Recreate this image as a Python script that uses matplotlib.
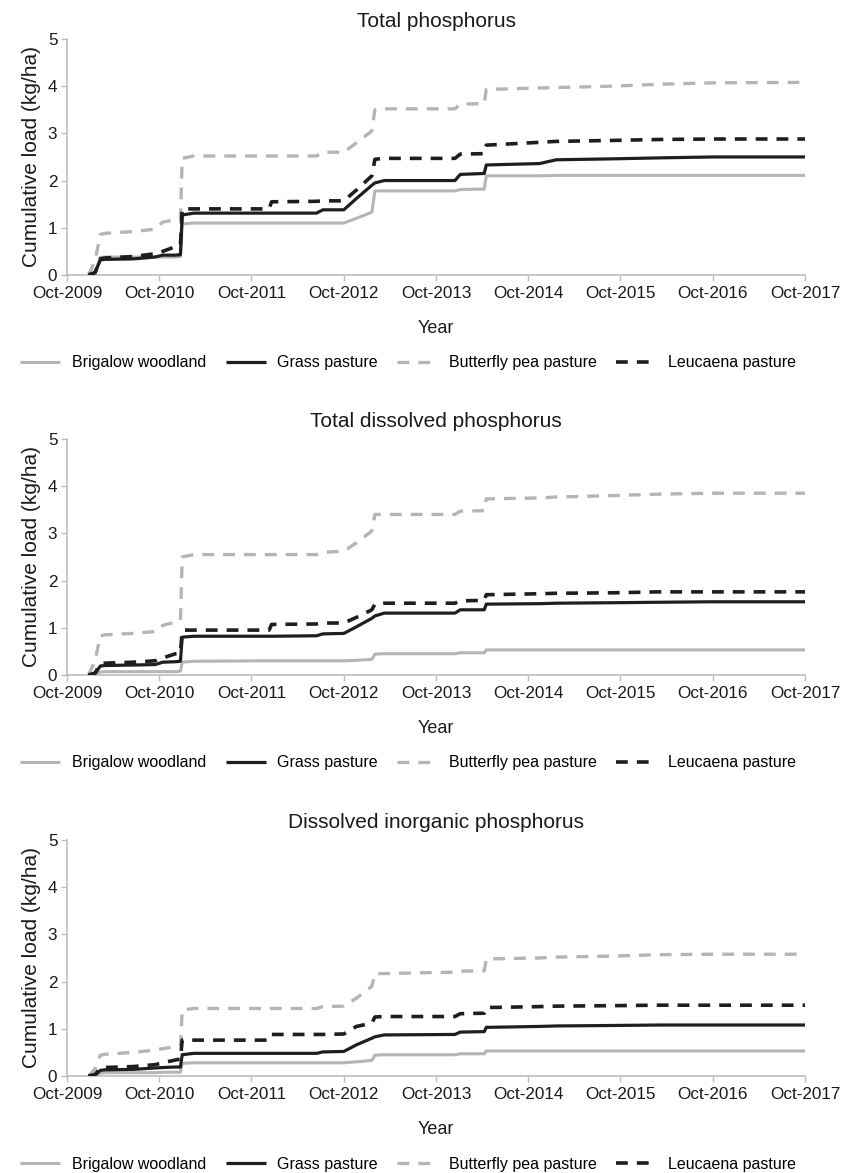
import pandas as pd
import matplotlib
matplotlib.use("Agg")
import matplotlib.pyplot as plt
import matplotlib.dates as mdates

# ----------------------
# Data
# ----------------------
dates = pd.to_datetime([
    "2009-12-25", "2010-01-20", "2010-02-10", "2010-03-01", "2010-06-20",
    "2010-09-15", "2010-10-15", "2010-12-05", "2010-12-24", "2010-12-31",
    "2011-02-15", "2011-12-10", "2011-12-20", "2012-06-15", "2012-07-10",
    "2012-10-01", "2012-11-20", "2013-01-20", "2013-02-01", "2013-03-10",
    "2013-12-15", "2014-01-05", "2014-04-10", "2014-04-18", "2014-11-15",
    "2015-01-20", "2015-09-01", "2016-03-01", "2016-10-01", "2017-10-01",
])

titles = ["Total phosphorus", "Total dissolved phosphorus",
          "Dissolved inorganic phosphorus"]
series_names = ["Brigalow woodland", "Grass pasture",
                "Butterfly pea pasture", "Leucaena pasture"]

# Total phosphorus
tp_brigalow = [0, 0.05, 0.37, 0.38, 0.38, 0.38, 0.38, 0.38, 0.39, 1.08,
               1.1, 1.1, 1.1, 1.1, 1.1, 1.1, 1.2, 1.33, 1.78, 1.78,
               1.78, 1.81, 1.82, 2.1, 2.1, 2.11, 2.11, 2.11, 2.11, 2.11]
tp_grass = [0, 0.05, 0.32, 0.33, 0.34, 0.38, 0.42, 0.42, 0.43, 1.27,
            1.31, 1.31, 1.31, 1.31, 1.38, 1.38, 1.62, 1.9, 1.95, 2.0,
            2.0, 2.13, 2.15, 2.33, 2.36, 2.44, 2.46, 2.48, 2.5, 2.5]
tp_butterfly = [0, 0.3, 0.86, 0.88, 0.92, 0.97, 1.12, 1.17, 1.18, 2.47,
                2.52, 2.52, 2.52, 2.52, 2.6, 2.6, 2.8, 3.05, 3.5, 3.52,
                3.52, 3.62, 3.63, 3.93, 3.96, 3.97, 4.0, 4.04, 4.07, 4.08]
tp_leucaena = [0, 0.05, 0.34, 0.36, 0.39, 0.45, 0.5, 0.6, 0.63, 1.4,
               1.4, 1.4, 1.55, 1.56, 1.57, 1.57, 1.8, 2.1, 2.45, 2.47,
               2.47, 2.56, 2.57, 2.75, 2.81, 2.83, 2.85, 2.87, 2.88, 2.88]

# Total dissolved phosphorus
tdp_brigalow = [0, 0.02, 0.06, 0.07, 0.07, 0.07, 0.07, 0.07, 0.08, 0.27,
                0.29, 0.3, 0.3, 0.3, 0.3, 0.3, 0.31, 0.33, 0.44, 0.45,
                0.45, 0.47, 0.47, 0.53, 0.53, 0.53, 0.53, 0.53, 0.53, 0.53]
tdp_grass = [0, 0.03, 0.19, 0.2, 0.21, 0.22, 0.27, 0.28, 0.29, 0.8,
             0.82, 0.82, 0.82, 0.83, 0.87, 0.88, 1.02, 1.2, 1.25, 1.31,
             1.31, 1.38, 1.38, 1.5, 1.51, 1.52, 1.53, 1.54, 1.55, 1.55]
tdp_butterfly = [0, 0.3, 0.83, 0.85, 0.88, 0.92, 1.05, 1.12, 1.15, 2.5,
                 2.55, 2.55, 2.55, 2.55, 2.6, 2.62, 2.8, 3.05, 3.4, 3.4,
                 3.4, 3.47, 3.48, 3.73, 3.75, 3.77, 3.8, 3.83, 3.85, 3.85]
tdp_leucaena = [0, 0.04, 0.24, 0.25, 0.27, 0.3, 0.36, 0.45, 0.46, 0.95,
                0.95, 0.95, 1.07, 1.08, 1.1, 1.1, 1.22, 1.38, 1.5, 1.52,
                1.52, 1.57, 1.58, 1.7, 1.72, 1.73, 1.74, 1.76, 1.76, 1.76]

# Dissolved inorganic phosphorus
dip_brigalow = [0, 0.02, 0.06, 0.07, 0.07, 0.07, 0.08, 0.08, 0.08, 0.27,
                0.28, 0.28, 0.28, 0.28, 0.28, 0.28, 0.3, 0.33, 0.44, 0.45,
                0.45, 0.47, 0.47, 0.53, 0.53, 0.53, 0.53, 0.53, 0.53, 0.53]
dip_grass = [0, 0.02, 0.12, 0.13, 0.14, 0.17, 0.18, 0.19, 0.19, 0.45,
             0.48, 0.48, 0.48, 0.48, 0.51, 0.52, 0.66, 0.8, 0.83, 0.87,
             0.88, 0.93, 0.94, 1.03, 1.05, 1.06, 1.07, 1.08, 1.08, 1.08]
dip_butterfly = [0, 0.15, 0.44, 0.46, 0.5, 0.55, 0.58, 0.62, 0.63, 1.4,
                 1.43, 1.43, 1.43, 1.43, 1.47, 1.48, 1.65, 1.9, 2.17, 2.17,
                 2.2, 2.22, 2.23, 2.48, 2.5, 2.52, 2.54, 2.57, 2.58, 2.58]
dip_leucaena = [0, 0.03, 0.17, 0.18, 0.2, 0.24, 0.28, 0.34, 0.36, 0.76,
                0.76, 0.76, 0.88, 0.88, 0.88, 0.89, 1.05, 1.12, 1.25, 1.26,
                1.26, 1.32, 1.33, 1.45, 1.47, 1.48, 1.49, 1.5, 1.5, 1.5]

panels = [
    [tp_brigalow, tp_grass, tp_butterfly, tp_leucaena],
    [tdp_brigalow, tdp_grass, tdp_butterfly, tdp_leucaena],
    [dip_brigalow, dip_grass, dip_butterfly, dip_leucaena],
]

# ----------------------
# Styling
# ----------------------
plt.rcParams['font.family'] = ['Liberation Sans', 'DejaVu Sans']
plt.rcParams['lines.scale_dashes'] = False

GREY = '#b5b5b5'
BLACK = '#1e1e1e'
AXIS_GREY = '#bdbdbd'
styles = [
    dict(color=GREY, lw=2.2, ls='-', zorder=2),
    dict(color=BLACK, lw=2.3, ls='-', zorder=4),
    dict(color=GREY, lw=2.4, dashes=(8.5, 6.5), zorder=3),
    dict(color=BLACK, lw=2.6, dashes=(8.5, 6.5), zorder=5),
]

fig = plt.figure(figsize=(8.41, 11.73), dpi=100)
bottoms = [0.7656, 0.4246, 0.0827]
x_start = pd.Timestamp("2009-10-01")
x_end = pd.Timestamp("2017-10-01")

for title, values, bottom in zip(titles, panels, bottoms):
    ax = fig.add_axes([0.0797, bottom, 0.8775, 0.2012])
    for name, vals, st in zip(series_names, values, styles):
        ax.plot(dates, vals, label=name, solid_capstyle='butt',
                dash_capstyle='butt', **st)

    ax.set_xlim(x_start, x_end)
    ax.set_ylim(0, 5)
    ax.set_yticks(range(0, 6))
    ax.xaxis.set_major_locator(mdates.MonthLocator(bymonth=10, bymonthday=1))
    ax.xaxis.set_major_formatter(mdates.DateFormatter('%b-%Y'))

    for side in ['top', 'right']:
        ax.spines[side].set_visible(False)
    for side in ['left', 'bottom']:
        ax.spines[side].set_color(AXIS_GREY)
        ax.spines[side].set_linewidth(1.2)
    ax.tick_params(axis='both', colors=AXIS_GREY, labelcolor='#1a1a1a',
                   labelsize=12.3, length=4, width=1, direction='out')
    ax.tick_params(axis='x', pad=4)
    ax.tick_params(axis='y', pad=3)

    ax.set_ylabel("Cumulative load (kg/ha)", fontsize=15, labelpad=5,
                  color='#1a1a1a')
    ax.text(0.5, 1.05, title, transform=ax.transAxes, ha='center',
            va='baseline', fontsize=15, color='#1a1a1a')
    ax.text(0.5, -0.225, "Year", transform=ax.transAxes, ha='center',
            va='center', fontsize=13, color='#1a1a1a')
    ax.legend(loc='center', bbox_to_anchor=(0.462, -0.373), ncol=4,
              frameon=False, fontsize=11.5, handlelength=2.5,
              handletextpad=0.7, columnspacing=1.25)

fig.savefig("out.png", dpi=100)
